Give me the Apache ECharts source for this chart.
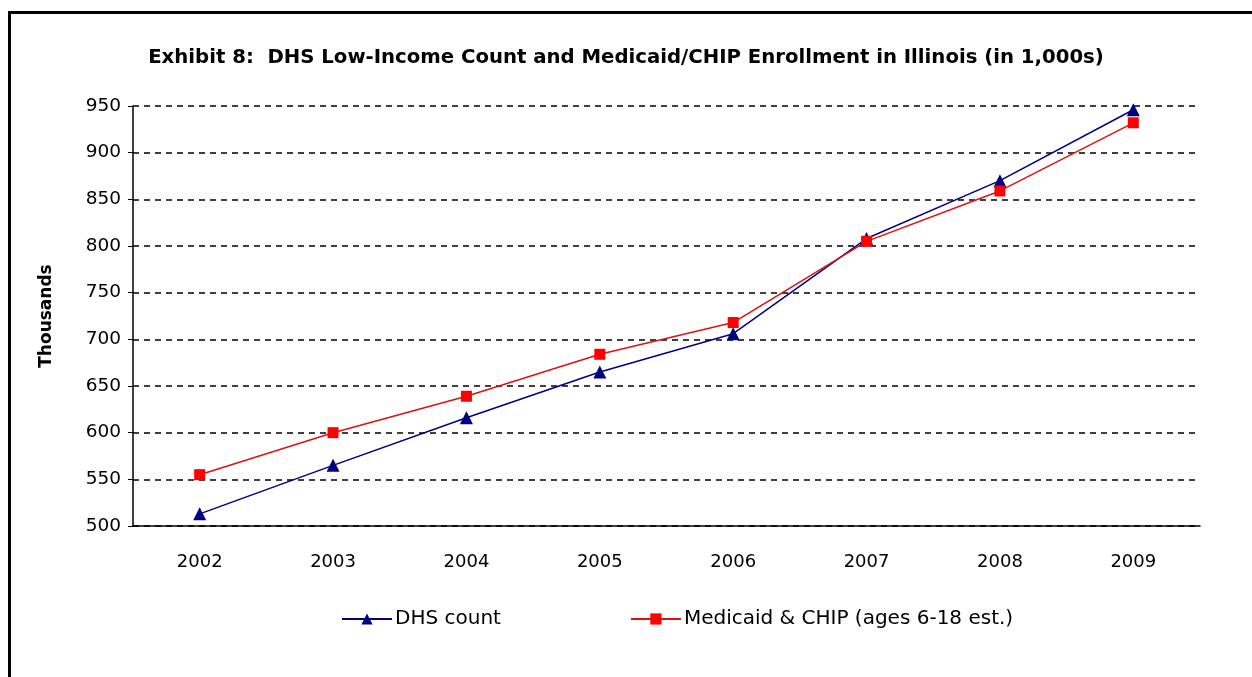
<!DOCTYPE html>
<html>
<head>
<meta charset="utf-8">
<script src="https://cdn.jsdelivr.net/npm/echarts@6/dist/echarts.min.js"></script>
<style>
html, body { margin: 0; padding: 0; background: #fff; }
#chart { position: absolute; left: 0; top: 0; width: 1252px; height: 677px; }
#frame { position: absolute; left: 8px; top: 11px; width: 1260px; height: 700px;
  border-left: 3px solid #000; border-top: 3px solid #000; pointer-events: none; }
</style>
</head>
<body>
<div id="chart"></div>
<div id="frame"></div>
<script>
var years = ['2002', '2003', '2004', '2005', '2006', '2007', '2008', '2009'];
var dhsCount = [513, 565, 616, 665, 706, 808, 870, 946];
var medicaidChip = [555, 600, 639, 684, 718, 805, 859, 932];

var font = 'DejaVu Sans, Verdana, sans-serif';

var chart = echarts.init(document.getElementById('chart'));
var option = {
    animation: false,
    title: {
        text: 'Exhibit 8:  DHS Low-Income Count and Medicaid/CHIP Enrollment in Illinois (in 1,000s)',
        left: 'center',
        top: 43,
        textStyle: {
            fontFamily: font,
            fontSize: 19.7,
            fontWeight: 'bold',
            color: '#000'
        }
    },
    legend: {
        top: 609,
        left: 341,
        padding: 0,
        itemWidth: 50,
        itemHeight: 14,
        itemGap: 129,
        textStyle: { fontFamily: font, fontSize: 20, color: '#000', padding: [0, 0, 0, -2] },
        data: ['DHS count', 'Medicaid & CHIP (ages 6-18 est.)']
    },
    grid: {
        left: 133,
        right: 52,
        top: 106,
        bottom: 151
    },
    xAxis: {
        type: 'category',
        data: years,
        axisLine: { lineStyle: { color: '#000', width: 1.5 } },
        axisTick: { length: 6, lineStyle: { color: '#000' } },
        axisLabel: { fontFamily: font, fontSize: 18, color: '#000', margin: 27 }
    },
    yAxis: {
        type: 'value',
        min: 500,
        max: 950,
        interval: 50,
        name: 'Thousands',
        nameLocation: 'middle',
        nameGap: 78,
        nameTextStyle: { fontFamily: font, fontSize: 17, fontWeight: 'bold', color: '#000' },
        axisLine: { show: true, lineStyle: { color: '#000', width: 1.5 } },
        axisTick: { show: true, length: 5, lineStyle: { color: '#000' } },
        axisLabel: { fontFamily: font, fontSize: 18.5, color: '#000', margin: 12 },
        splitLine: { lineStyle: { color: '#000', type: [6, 5], width: 1.5 } }
    },
    series: [
        {
            name: 'DHS count',
            type: 'line',
            data: dhsCount,
            symbol: 'triangle',
            symbolSize: 13,
            color: '#000080',
            lineStyle: { width: 1.5, color: '#000080' },
            itemStyle: { color: '#000080' }
        },
        {
            name: 'Medicaid & CHIP (ages 6-18 est.)',
            type: 'line',
            data: medicaidChip,
            symbol: 'rect',
            symbolSize: 11,
            color: '#ff0000',
            lineStyle: { width: 1.5, color: '#e01010' },
            itemStyle: { color: '#ff0000' }
        }
    ]
};
chart.setOption(option);
</script>
</body>
</html>
